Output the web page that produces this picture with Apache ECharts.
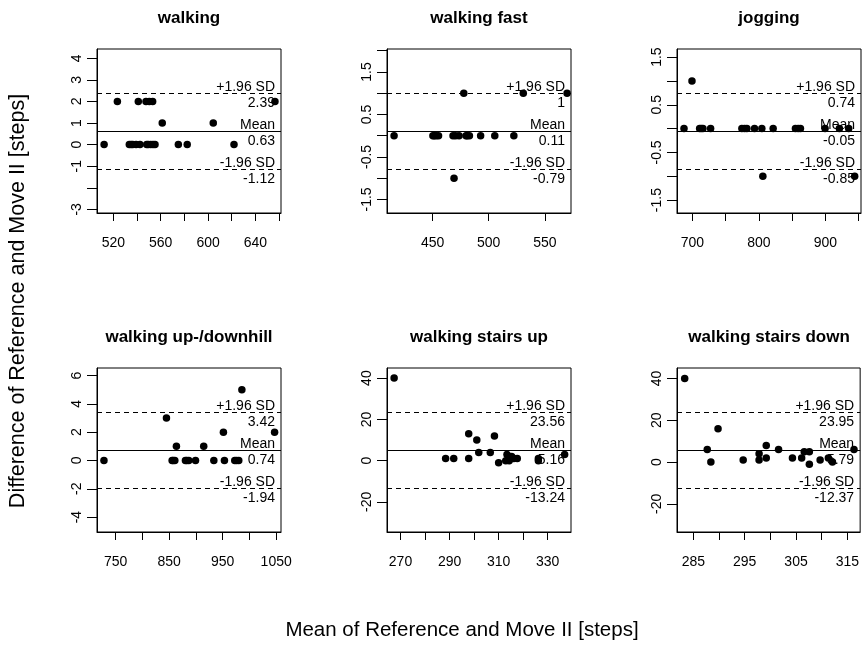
<!DOCTYPE html>
<html><head><meta charset="utf-8">
<script src="https://cdn.jsdelivr.net/npm/echarts@6/dist/echarts.min.js"></script>
<style>html,body{margin:0;padding:0;background:#fff}#c{width:862px;height:645px}</style>
</head><body><div id="c"></div>
<script>
// ---- data ----
const titles = ['walking', 'walking fast', 'jogging', 'walking up-/downhill', 'walking stairs up', 'walking stairs down'];

const walkingX = [512.2, 523.4, 533.5, 535.0, 536.4, 539.2, 541.1, 542.5, 547.6, 548.2, 549.5, 550.4, 551.6, 553.2, 553.5, 555.2, 561.3, 574.9, 582.4, 604.4, 621.9, 656.5];
const walkingY = [0, 2, 0, 0, 0, 0, 2, 0, 2, 0, 0, 2, 0, 2, 0, 0, 1, 0, 0, 1, 0, 2];

const fastX = [415.7, 450.3, 451.5, 453.2, 455.3, 468.2, 469.1, 470.5, 473.6, 477.8, 479.8, 480.8, 482.8, 492.8, 505.4, 522.4, 530.8, 569.8];
const fastY = [0, 0, 0, 0, 0, 0, -1, 0, 0, 1, 0, 0, 0, 0, 0, 0, 1, 1];

const joggingX = [687.5, 699.5, 711, 713.5, 716, 727.5, 774.5, 778.5, 782, 793.5, 804.5, 806, 821.5, 855, 859, 862.5, 899.5, 921, 935, 944];
const joggingY = [0, 1, 0, 0, 0, 0, 0, 0, 0, 0, 0, -1, 0, 0, 0, 0, 0, 0, 0, -1];

const hillX = [728.2, 845, 855.6, 857.5, 860.6, 863.6, 880.4, 883, 886.7, 899.3, 914.6, 933.5, 951.4, 953.3, 972.6, 976, 980.1, 985.9, 1047];
const hillY = [0, 3, 0, 0, 0, 1, 0, 0, 0, 0, 1, 0, 2, 0, 0, 0, 0, 5, 2];

const upX = [267.4, 288.4, 291.7, 297.8, 297.8, 301.1, 301.9, 306.6, 308.3, 310.0, 312.9, 313.4, 314.3, 315.3, 316.2, 317.6, 326.2, 326.2, 336.9];
const upY = [40, 1, 1, 13, 1, 10, 4, 4, 12, -1, 0, 3, 0, 2, 1, 1, 0, 1, 3];

const downX = [283.3, 287.7, 288.4, 289.8, 294.7, 297.8, 297.8, 299.2, 299.2, 301.6, 304.3, 306.1, 306.6, 307.6, 307.6, 309.7, 311.3, 312.1, 316.3];
const downY = [40, 6, 0, 16, 1, 4, 1, 8, 2, 6, 2, 2, 5, 5, -1, 1, 2, 0, 6];

const upperSD = [2.39, 1, 0.74, 3.42, 23.56, 23.95];
const meanDiff = [0.63, 0.11, -0.05, 0.74, 5.16, 5.79];
const lowerSD = [-1.12, -0.79, -0.85, -1.94, -13.24, -12.37];

const xMin = [506.2, 409.4, 677.0, 715.2, 264.5, 281.8];
const xMax = [661.6, 573.3, 953.5, 1059.0, 339.5, 317.5];
const yMin = [-3.17, -1.82, -1.77, -5.05, -34.58, -33.44];
const yMax = [4.43, 2.04, 1.67, 6.53, 44.9, 45.02];

const xTicks = [
  [520, 540, 560, 580, 600, 620, 640, 660],
  [450, 500, 550],
  [700, 750, 800, 850, 900, 950],
  [750, 800, 850, 900, 950, 1000, 1050],
  [270, 280, 290, 300, 310, 320, 330],
  [285, 290, 295, 300, 305, 310, 315]
];
const xLabels = [
  [520, 560, 600, 640],
  [450, 500, 550],
  [700, 800, 900],
  [750, 850, 950, 1050],
  [270, 290, 310, 330],
  [285, 295, 305, 315]
];
const yTicks = [
  [-3, -2, -1, 0, 1, 2, 3, 4],
  [-1.5, -1, -0.5, 0, 0.5, 1, 1.5, 2],
  [-1.5, -1, -0.5, 0, 0.5, 1, 1.5],
  [-4, -2, 0, 2, 4, 6],
  [-20, 0, 20, 40],
  [-20, 0, 20, 40]
];
const yLabels = [
  [-3, -1, 0, 1, 2, 3, 4],
  [-1.5, -0.5, 0.5, 1.5],
  [-1.5, -0.5, 0.5, 1.5],
  [-4, -2, 0, 2, 4, 6],
  [-20, 0, 20, 40],
  [-20, 0, 20, 40]
];

const xTitle = 'Mean of Reference and Move II [steps]';
const yTitle = 'Difference of Reference and Move II [steps]';

// ---- build ----
const panelX = [walkingX, fastX, joggingX, hillX, upX, downX];
const panelY = [walkingY, fastY, joggingY, hillY, upY, downY];
const FONT = '"Liberation Sans", Arial, Helvetica, sans-serif';

const chart = echarts.init(document.getElementById('c'), null, {renderer: 'canvas'});
const grids = [], xAxes = [], yAxes = [], series = [], graphics = [];
const GL = 97, GT = 49, GW = 184, GH = 164, DX = 290, DY = 319;
const plain = v => String(v);

for (let i = 0; i < 6; i++) {
  const col = i % 3, row = Math.floor(i / 3);
  const left = GL + DX * col, top = GT + DY * row;
  grids.push({left: left, top: top, width: GW, height: GH, show: true,
    borderColor: '#000', borderWidth: 1, backgroundColor: 'transparent'});
  xAxes.push({type: 'value', gridIndex: i, min: xMin[i], max: xMax[i],
    axisLine: {show: true, onZero: false, lineStyle: {color: '#000', width: 1}},
    axisTick: {show: true, inside: false, length: 8, customValues: xTicks[i], lineStyle: {color: '#000', width: 1}},
    axisLabel: {show: true, customValues: xLabels[i], formatter: plain, margin: 23, color: '#000', fontSize: 14, fontFamily: FONT},
    splitLine: {show: false}});
  yAxes.push({type: 'value', gridIndex: i, min: yMin[i], max: yMax[i],
    axisLine: {show: true, onZero: false, lineStyle: {color: '#000', width: 1}},
    axisTick: {show: true, inside: false, length: 10, customValues: yTicks[i], lineStyle: {color: '#000', width: 1}},
    axisLabel: {show: true, customValues: yLabels[i], formatter: plain, rotate: 90, margin: 13, color: '#000', fontSize: 14, fontFamily: FONT},
    splitLine: {show: false}});

  const pts = panelX[i].map((x, k) => [x, panelY[i][k]]);
  const lbl = (txt, pos, dist) => ({show: true, formatter: txt, position: pos, distance: dist,
    color: '#000', fontSize: 14, fontFamily: FONT});
  const dashed = {color: '#000', width: 1, type: [5, 4]};
  const solid = {color: '#000', width: 1, type: 'solid'};
  const hidden = {color: 'rgba(0,0,0,0)', width: 1, type: 'solid'};
  series.push({type: 'scatter', xAxisIndex: i, yAxisIndex: i, data: pts,
    symbol: 'circle', symbolSize: 7.5, itemStyle: {color: '#000', opacity: 1},
    silent: true, animation: false,
    markLine: {silent: true, symbol: 'none', animation: false,
      data: [
        {yAxis: upperSD[i], lineStyle: dashed, label: lbl('+1.96 SD', 'insideEndTop', [6, -1])},
        {yAxis: upperSD[i], lineStyle: hidden, label: lbl(String(upperSD[i]), 'insideEndBottom', [6, 3])},
        {yAxis: meanDiff[i], lineStyle: solid, label: lbl('Mean', 'insideEndTop', [6, -1])},
        {yAxis: meanDiff[i], lineStyle: hidden, label: lbl(String(meanDiff[i]), 'insideEndBottom', [6, 3])},
        {yAxis: lowerSD[i], lineStyle: dashed, label: lbl('-1.96 SD', 'insideEndTop', [6, -1])},
        {yAxis: lowerSD[i], lineStyle: hidden, label: lbl(String(lowerSD[i]), 'insideEndBottom', [6, 3])}
      ]}});

  graphics.push({type: 'text', x: left + GW / 2, y: 18 + DY * row, silent: true,
    style: {text: titles[i], textAlign: 'center', textVerticalAlign: 'middle',
      font: 'bold 17px ' + FONT, fill: '#000'}});
}

graphics.push({type: 'text', x: 462, y: 630, silent: true,
  style: {text: xTitle, textAlign: 'center', textVerticalAlign: 'middle', font: '20.5px ' + FONT, fill: '#000'}});
graphics.push({type: 'text', x: 18, y: 301, rotation: Math.PI / 2, silent: true,
  style: {text: yTitle, textAlign: 'center', textVerticalAlign: 'middle', font: '21.5px ' + FONT, fill: '#000'}});

chart.setOption({
  animation: false,
  backgroundColor: '#fff',
  grid: grids, xAxis: xAxes, yAxis: yAxes, series: series,
  graphic: {elements: graphics}
});
</script></body></html>
